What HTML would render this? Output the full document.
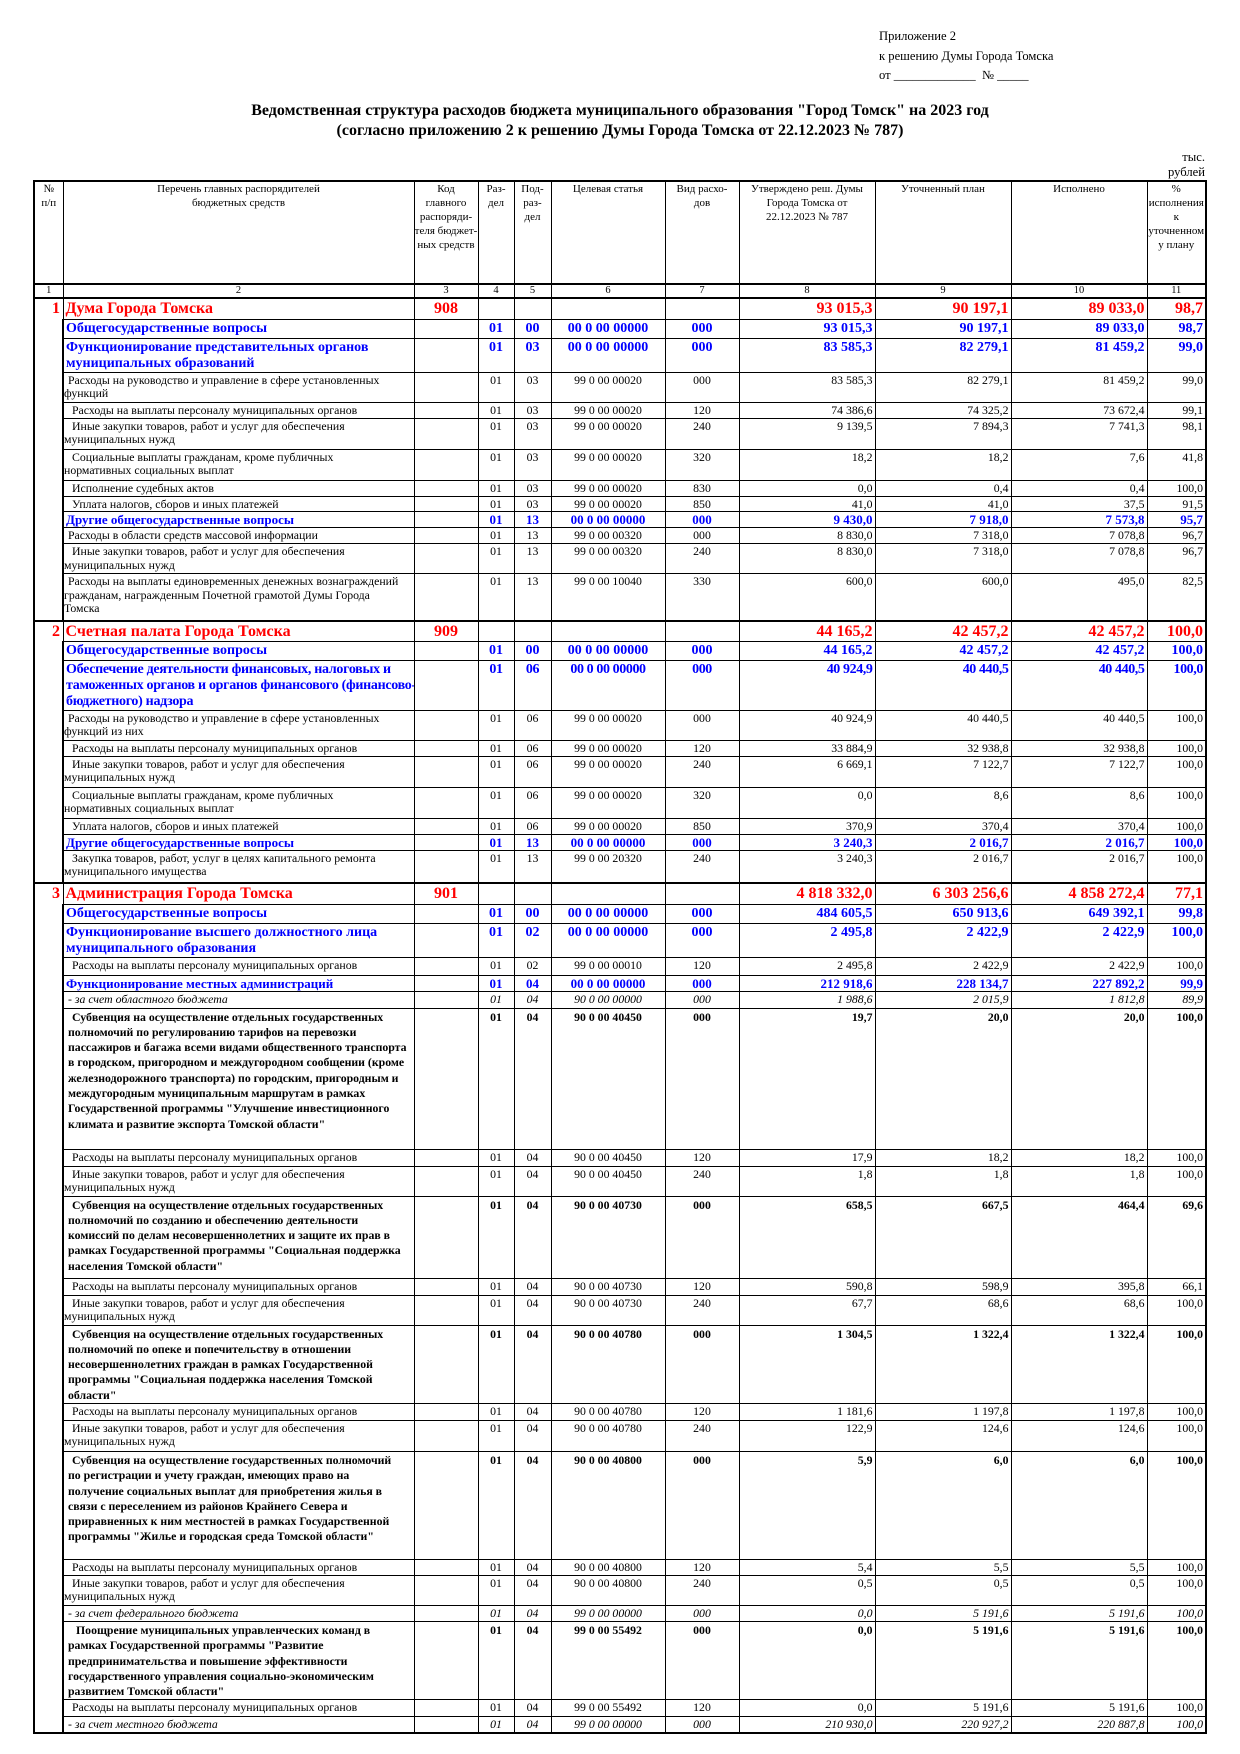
<!DOCTYPE html>
<html><head><meta charset="utf-8">
<style>
body{margin:0;width:1240px;height:1754px;background:#fff;position:relative;font-family:"Liberation Serif",serif;color:#000}
.ab{position:absolute;white-space:nowrap}
table{position:absolute;left:33px;top:180px;border-collapse:collapse;table-layout:fixed;width:1172px}
td{border:1px solid #000;padding:1px 2px 0 2px;vertical-align:top;font-size:11.8px;line-height:13.5px;white-space:nowrap;overflow:hidden}
tr.h td{font-size:11px;line-height:14px;text-align:center;border-bottom:2px solid #000;border-top:2px solid #000;white-space:nowrap;padding:0}
tr.n td{font-size:10.5px;line-height:12px;text-align:center;border-bottom:2px solid #000;padding:0}
td.c{text-align:center}
td.v{text-align:right}
td.f{border-top:none;border-bottom:none;text-align:right;color:#f00;font-weight:bold;font-size:16px;line-height:18px}
tr.r td{color:#f00;font-weight:bold;font-size:16px;line-height:18px;border-top:2px solid #000}
tr.b td{color:#00f;font-weight:bold;font-size:14px;line-height:16px}
tr.s td{font-weight:bold;font-size:11.8px;line-height:15.3px}
tr.i td{font-style:italic}
td.t{padding-left:4px}
tr.nn td.t{padding-left:8px}
td:first-child{border-left:2px solid #000}
td:last-child{border-right:2px solid #000}
tr.last td{border-bottom:2px solid #000}
.b12{font-size:13px!important;line-height:14px!important}
</style></head><body>
<div class="ab" style="left:879px;top:27px;font-size:12.6px;line-height:19.5px">Приложение 2<br>к решению Думы Города Томска<br>от _____________ &nbsp;№ _____</div>
<div class="ab" style="left:0;width:1240px;top:101px;text-align:center;font-weight:bold;font-size:16px;line-height:20px">Ведомственная структура расходов бюджета муниципального образования "Город Томск" на 2023 год<br>(согласно приложению 2 к решению Думы Города Томска от 22.12.2023 № 787)</div>
<div class="ab" style="left:1150px;top:150px;width:55px;text-align:right;font-size:12.6px;line-height:15px">тыс.<br>рублей</div>
<table>
<colgroup><col style="width:29px"><col style="width:351px"><col style="width:64px"><col style="width:36px"><col style="width:37px"><col style="width:114px"><col style="width:74px"><col style="width:136px"><col style="width:136px"><col style="width:136px"><col style="width:59px"></colgroup>
<tr class="h" style="height:103px"><td>№<br>п/п</td><td>Перечень главных распорядителей<br>бюджетных средств</td><td>Код<br>главного<br>распоряди-<br>теля бюджет-<br>ных средств</td><td>Раз-<br>дел</td><td>Под-<br>раз-<br>дел</td><td>Целевая статья</td><td>Вид расхо-<br>дов</td><td>Утверждено реш. Думы<br>Города Томска от<br>22.12.2023 № 787</td><td>Уточненный план</td><td>Исполнено</td><td>%<br>исполнения<br>к<br>уточненном<br>у плану</td></tr>
<tr class="n" style="height:14px"><td>1</td><td>2</td><td>3</td><td>4</td><td>5</td><td>6</td><td>7</td><td>8</td><td>9</td><td>10</td><td>11</td></tr>

<tr class="r" style="height:21px"><td class="f" rowspan="13">1</td><td>Дума Города Томска</td><td class="c">908</td><td></td><td></td><td></td><td></td><td class="v">93 015,3</td><td class="v">90 197,1</td><td class="v">89 033,0</td><td class="v">98,7</td></tr>
<tr class="b" style="height:19px"><td>Общегосударственные вопросы</td><td></td><td class="c">01</td><td class="c">00</td><td class="c">00 0 00 00000</td><td class="c">000</td><td class="v">93 015,3</td><td class="v">90 197,1</td><td class="v">89 033,0</td><td class="v">98,7</td></tr>
<tr class="b" style="height:33px"><td>Функционирование представительных органов<br>муниципальных образований</td><td></td><td class="c">01</td><td class="c">03</td><td class="c">00 0 00 00000</td><td class="c">000</td><td class="v">83 585,3</td><td class="v">82 279,1</td><td class="v">81 459,2</td><td class="v">99,0</td></tr>
<tr style="height:30px"><td class="t">Расходы на руководство и управление в сфере установленных<br><span style="margin-left:-4px">функций</span></td><td></td><td class="c">01</td><td class="c">03</td><td class="c">99 0 00 00020</td><td class="c">000</td><td class="v">83 585,3</td><td class="v">82 279,1</td><td class="v">81 459,2</td><td class="v">99,0</td></tr>
<tr class="nn" style="height:16px"><td class="t">Расходы на выплаты персоналу муниципальных органов</td><td></td><td class="c">01</td><td class="c">03</td><td class="c">99 0 00 00020</td><td class="c">120</td><td class="v">74 386,6</td><td class="v">74 325,2</td><td class="v">73 672,4</td><td class="v">99,1</td></tr>
<tr class="nn" style="height:31px"><td class="t">Иные закупки товаров, работ и услуг для обеспечения<br><span style="margin-left:-8px">муниципальных нужд</span></td><td></td><td class="c">01</td><td class="c">03</td><td class="c">99 0 00 00020</td><td class="c">240</td><td class="v">9 139,5</td><td class="v">7 894,3</td><td class="v">7 741,3</td><td class="v">98,1</td></tr>
<tr class="nn" style="height:31px"><td class="t">Социальные выплаты гражданам, кроме публичных<br><span style="margin-left:-8px">нормативных социальных выплат</span></td><td></td><td class="c">01</td><td class="c">03</td><td class="c">99 0 00 00020</td><td class="c">320</td><td class="v">18,2</td><td class="v">18,2</td><td class="v">7,6</td><td class="v">41,8</td></tr>
<tr class="nn" style="height:16px"><td class="t">Исполнение судебных актов</td><td></td><td class="c">01</td><td class="c">03</td><td class="c">99 0 00 00020</td><td class="c">830</td><td class="v">0,0</td><td class="v">0,4</td><td class="v">0,4</td><td class="v">100,0</td></tr>
<tr class="nn" style="height:15px"><td class="t">Уплата налогов, сборов и иных платежей</td><td></td><td class="c">01</td><td class="c">03</td><td class="c">99 0 00 00020</td><td class="c">850</td><td class="v">41,0</td><td class="v">41,0</td><td class="v">37,5</td><td class="v">91,5</td></tr>
<tr class="b" style="height:16px"><td class="b12">Другие общегосударственные вопросы</td><td></td><td class="c b12">01</td><td class="c b12">13</td><td class="c b12">00 0 00 00000</td><td class="c b12">000</td><td class="v b12">9 430,0</td><td class="v b12">7 918,0</td><td class="v b12">7 573,8</td><td class="v b12">95,7</td></tr>
<tr style="height:16px"><td class="t">Расходы в области средств массовой информации</td><td></td><td class="c">01</td><td class="c">13</td><td class="c">99 0 00 00320</td><td class="c">000</td><td class="v">8 830,0</td><td class="v">7 318,0</td><td class="v">7 078,8</td><td class="v">96,7</td></tr>
<tr class="nn" style="height:30px"><td class="t">Иные закупки товаров, работ и услуг для обеспечения<br><span style="margin-left:-8px">муниципальных нужд</span></td><td></td><td class="c">01</td><td class="c">13</td><td class="c">99 0 00 00320</td><td class="c">240</td><td class="v">8 830,0</td><td class="v">7 318,0</td><td class="v">7 078,8</td><td class="v">96,7</td></tr>
<tr style="height:47px"><td class="t">Расходы на выплаты единовременных денежных вознаграждений<br><span style="margin-left:-4px">гражданам, награжденным Почетной грамотой Думы Города</span><br><span style="margin-left:-4px">Томска</span></td><td></td><td class="c">01</td><td class="c">13</td><td class="c">99 0 00 10040</td><td class="c">330</td><td class="v">600,0</td><td class="v">600,0</td><td class="v">495,0</td><td class="v">82,5</td></tr>

<tr class="r" style="height:20px"><td class="f" rowspan="10" style="border-top:2px solid #000">2</td><td>Счетная палата Города Томска</td><td class="c">909</td><td></td><td></td><td></td><td></td><td class="v">44 165,2</td><td class="v">42 457,2</td><td class="v">42 457,2</td><td class="v">100,0</td></tr>
<tr class="b" style="height:19px"><td>Общегосударственные вопросы</td><td></td><td class="c">01</td><td class="c">00</td><td class="c">00 0 00 00000</td><td class="c">000</td><td class="v">44 165,2</td><td class="v">42 457,2</td><td class="v">42 457,2</td><td class="v">100,0</td></tr>
<tr class="b" style="height:48px;letter-spacing:-0.4px"><td style="letter-spacing:-0.3px">Обеспечение деятельности финансовых, налоговых и<br>таможенных органов и органов финансового (финансово-<br>бюджетного) надзора</td><td></td><td class="c">01</td><td class="c">06</td><td class="c">00 0 00 00000</td><td class="c">000</td><td class="v">40 924,9</td><td class="v">40 440,5</td><td class="v">40 440,5</td><td class="v">100,0</td></tr>
<tr style="height:30px"><td class="t">Расходы на руководство и управление в сфере установленных<br><span style="margin-left:-4px">функций из них</span></td><td></td><td class="c">01</td><td class="c">06</td><td class="c">99 0 00 00020</td><td class="c">000</td><td class="v">40 924,9</td><td class="v">40 440,5</td><td class="v">40 440,5</td><td class="v">100,0</td></tr>
<tr class="nn" style="height:16px"><td class="t">Расходы на выплаты персоналу муниципальных органов</td><td></td><td class="c">01</td><td class="c">06</td><td class="c">99 0 00 00020</td><td class="c">120</td><td class="v">33 884,9</td><td class="v">32 938,8</td><td class="v">32 938,8</td><td class="v">100,0</td></tr>
<tr class="nn" style="height:31px"><td class="t">Иные закупки товаров, работ и услуг для обеспечения<br><span style="margin-left:-8px">муниципальных нужд</span></td><td></td><td class="c">01</td><td class="c">06</td><td class="c">99 0 00 00020</td><td class="c">240</td><td class="v">6 669,1</td><td class="v">7 122,7</td><td class="v">7 122,7</td><td class="v">100,0</td></tr>
<tr class="nn" style="height:31px"><td class="t">Социальные выплаты гражданам, кроме публичных<br><span style="margin-left:-8px">нормативных социальных выплат</span></td><td></td><td class="c">01</td><td class="c">06</td><td class="c">99 0 00 00020</td><td class="c">320</td><td class="v">0,0</td><td class="v">8,6</td><td class="v">8,6</td><td class="v">100,0</td></tr>
<tr class="nn" style="height:16px"><td class="t">Уплата налогов, сборов и иных платежей</td><td></td><td class="c">01</td><td class="c">06</td><td class="c">99 0 00 00020</td><td class="c">850</td><td class="v">370,9</td><td class="v">370,4</td><td class="v">370,4</td><td class="v">100,0</td></tr>
<tr class="b" style="height:15px"><td class="b12">Другие общегосударственные вопросы</td><td></td><td class="c b12">01</td><td class="c b12">13</td><td class="c b12">00 0 00 00000</td><td class="c b12">000</td><td class="v b12">3 240,3</td><td class="v b12">2 016,7</td><td class="v b12">2 016,7</td><td class="v b12">100,0</td></tr>
<tr class="nn" style="height:33px"><td class="t">Закупка товаров, работ, услуг в целях капитального ремонта<br><span style="margin-left:-8px">муниципального имущества</span></td><td></td><td class="c">01</td><td class="c">13</td><td class="c">99 0 00 20320</td><td class="c">240</td><td class="v">3 240,3</td><td class="v">2 016,7</td><td class="v">2 016,7</td><td class="v">100,0</td></tr>

<tr class="r" style="height:21px"><td class="f" rowspan="22" style="border-top:2px solid #000;border-bottom:2px solid #000">3</td><td>Администрация Города Томска</td><td class="c">901</td><td></td><td></td><td></td><td></td><td class="v">4 818 332,0</td><td class="v">6 303 256,6</td><td class="v">4 858 272,4</td><td class="v">77,1</td></tr>
<tr class="b" style="height:19px"><td>Общегосударственные вопросы</td><td></td><td class="c">01</td><td class="c">00</td><td class="c">00 0 00 00000</td><td class="c">000</td><td class="v">484 605,5</td><td class="v">650 913,6</td><td class="v">649 392,1</td><td class="v">99,8</td></tr>
<tr class="b" style="height:33px"><td>Функционирование высшего должностного лица<br>муниципального образования</td><td></td><td class="c">01</td><td class="c">02</td><td class="c">00 0 00 00000</td><td class="c">000</td><td class="v">2 495,8</td><td class="v">2 422,9</td><td class="v">2 422,9</td><td class="v">100,0</td></tr>
<tr class="nn" style="height:18px"><td class="t">Расходы на выплаты персоналу муниципальных органов</td><td></td><td class="c">01</td><td class="c">02</td><td class="c">99 0 00 00010</td><td class="c">120</td><td class="v">2 495,8</td><td class="v">2 422,9</td><td class="v">2 422,9</td><td class="v">100,0</td></tr>
<tr class="b" style="height:16px"><td class="b12">Функционирование местных администраций</td><td></td><td class="c b12">01</td><td class="c b12">04</td><td class="c b12">00 0 00 00000</td><td class="c b12">000</td><td class="v b12">212 918,6</td><td class="v b12">228 134,7</td><td class="v b12">227 892,2</td><td class="v b12">99,9</td></tr>
<tr class="i" style="height:17px"><td class="t">- за счет областного бюджета</td><td></td><td class="c">01</td><td class="c">04</td><td class="c">90 0 00 00000</td><td class="c">000</td><td class="v">1 988,6</td><td class="v">2 015,9</td><td class="v">1 812,8</td><td class="v">89,9</td></tr>
<tr class="s" style="height:141px"><td class="t"><span style="margin-left:4px">Субвенция на осуществление отдельных государственных</span><br>полномочий по регулированию тарифов на перевозки<br>пассажиров и багажа всеми видами общественного транспорта<br>в городском, пригородном и междугородном сообщении (кроме<br>железнодорожного транспорта) по городским, пригородным и<br>междугородным муниципальным маршрутам в рамках<br>Государственной программы "Улучшение инвестиционного<br>климата и развитие экспорта Томской области"</td><td></td><td class="c">01</td><td class="c">04</td><td class="c">90 0 00 40450</td><td class="c">000</td><td class="v">19,7</td><td class="v">20,0</td><td class="v">20,0</td><td class="v">100,0</td></tr>
<tr class="nn" style="height:17px"><td class="t">Расходы на выплаты персоналу муниципальных органов</td><td></td><td class="c">01</td><td class="c">04</td><td class="c">90 0 00 40450</td><td class="c">120</td><td class="v">17,9</td><td class="v">18,2</td><td class="v">18,2</td><td class="v">100,0</td></tr>
<tr class="nn" style="height:30px"><td class="t">Иные закупки товаров, работ и услуг для обеспечения<br><span style="margin-left:-8px">муниципальных нужд</span></td><td></td><td class="c">01</td><td class="c">04</td><td class="c">90 0 00 40450</td><td class="c">240</td><td class="v">1,8</td><td class="v">1,8</td><td class="v">1,8</td><td class="v">100,0</td></tr>
<tr class="s" style="height:82px"><td class="t"><span style="margin-left:4px">Субвенция на осуществление отдельных государственных</span><br>полномочий по созданию и обеспечению деятельности<br>комиссий по делам несовершеннолетних и защите их прав в<br>рамках Государственной программы "Социальная поддержка<br>населения Томской области"</td><td></td><td class="c">01</td><td class="c">04</td><td class="c">90 0 00 40730</td><td class="c">000</td><td class="v">658,5</td><td class="v">667,5</td><td class="v">464,4</td><td class="v">69,6</td></tr>
<tr class="nn" style="height:17px"><td class="t">Расходы на выплаты персоналу муниципальных органов</td><td></td><td class="c">01</td><td class="c">04</td><td class="c">90 0 00 40730</td><td class="c">120</td><td class="v">590,8</td><td class="v">598,9</td><td class="v">395,8</td><td class="v">66,1</td></tr>
<tr class="nn" style="height:30px"><td class="t">Иные закупки товаров, работ и услуг для обеспечения<br><span style="margin-left:-8px">муниципальных нужд</span></td><td></td><td class="c">01</td><td class="c">04</td><td class="c">90 0 00 40730</td><td class="c">240</td><td class="v">67,7</td><td class="v">68,6</td><td class="v">68,6</td><td class="v">100,0</td></tr>
<tr class="s" style="height:78px"><td class="t"><span style="margin-left:4px">Субвенция на осуществление отдельных государственных</span><br>полномочий по опеке и попечительству в отношении<br>несовершеннолетних граждан в рамках Государственной<br>программы "Социальная поддержка населения Томской<br>области"</td><td></td><td class="c">01</td><td class="c">04</td><td class="c">90 0 00 40780</td><td class="c">000</td><td class="v">1 304,5</td><td class="v">1 322,4</td><td class="v">1 322,4</td><td class="v">100,0</td></tr>
<tr class="nn" style="height:17px"><td class="t">Расходы на выплаты персоналу муниципальных органов</td><td></td><td class="c">01</td><td class="c">04</td><td class="c">90 0 00 40780</td><td class="c">120</td><td class="v">1 181,6</td><td class="v">1 197,8</td><td class="v">1 197,8</td><td class="v">100,0</td></tr>
<tr class="nn" style="height:31px"><td class="t">Иные закупки товаров, работ и услуг для обеспечения<br><span style="margin-left:-8px">муниципальных нужд</span></td><td></td><td class="c">01</td><td class="c">04</td><td class="c">90 0 00 40780</td><td class="c">240</td><td class="v">122,9</td><td class="v">124,6</td><td class="v">124,6</td><td class="v">100,0</td></tr>
<tr class="s" style="height:108px"><td class="t"><span style="margin-left:4px">Субвенция на осуществление государственных полномочий</span><br>по регистрации и учету граждан, имеющих право на<br>получение социальных выплат для приобретения жилья в<br>связи с переселением из районов Крайнего Севера и<br>приравненных к ним местностей в рамках Государственной<br>программы "Жилье и городская среда Томской области"</td><td></td><td class="c">01</td><td class="c">04</td><td class="c">90 0 00 40800</td><td class="c">000</td><td class="v">5,9</td><td class="v">6,0</td><td class="v">6,0</td><td class="v">100,0</td></tr>
<tr class="nn" style="height:16px"><td class="t">Расходы на выплаты персоналу муниципальных органов</td><td></td><td class="c">01</td><td class="c">04</td><td class="c">90 0 00 40800</td><td class="c">120</td><td class="v">5,4</td><td class="v">5,5</td><td class="v">5,5</td><td class="v">100,0</td></tr>
<tr class="nn" style="height:30px"><td class="t">Иные закупки товаров, работ и услуг для обеспечения<br><span style="margin-left:-8px">муниципальных нужд</span></td><td></td><td class="c">01</td><td class="c">04</td><td class="c">90 0 00 40800</td><td class="c">240</td><td class="v">0,5</td><td class="v">0,5</td><td class="v">0,5</td><td class="v">100,0</td></tr>
<tr class="i" style="height:16px"><td class="t">- за счет федерального бюджета</td><td></td><td class="c">01</td><td class="c">04</td><td class="c">99 0 00 00000</td><td class="c">000</td><td class="v">0,0</td><td class="v">5 191,6</td><td class="v">5 191,6</td><td class="v">100,0</td></tr>
<tr class="s" style="height:78px"><td class="t"><span style="margin-left:8px">Поощрение муниципальных управленческих команд в</span><br>рамках Государственной программы "Развитие<br>предпринимательства и повышение эффективности<br>государственного управления социально-экономическим<br>развитием Томской области"</td><td></td><td class="c">01</td><td class="c">04</td><td class="c">99 0 00 55492</td><td class="c">000</td><td class="v">0,0</td><td class="v">5 191,6</td><td class="v">5 191,6</td><td class="v">100,0</td></tr>
<tr class="nn" style="height:17px"><td class="t">Расходы на выплаты персоналу муниципальных органов</td><td></td><td class="c">01</td><td class="c">04</td><td class="c">99 0 00 55492</td><td class="c">120</td><td class="v">0,0</td><td class="v">5 191,6</td><td class="v">5 191,6</td><td class="v">100,0</td></tr>
<tr class="i last" style="height:16px"><td class="t">- за счет местного бюджета</td><td></td><td class="c">01</td><td class="c">04</td><td class="c">99 0 00 00000</td><td class="c">000</td><td class="v">210 930,0</td><td class="v">220 927,2</td><td class="v">220 887,8</td><td class="v">100,0</td></tr>
</table>
</body></html>
